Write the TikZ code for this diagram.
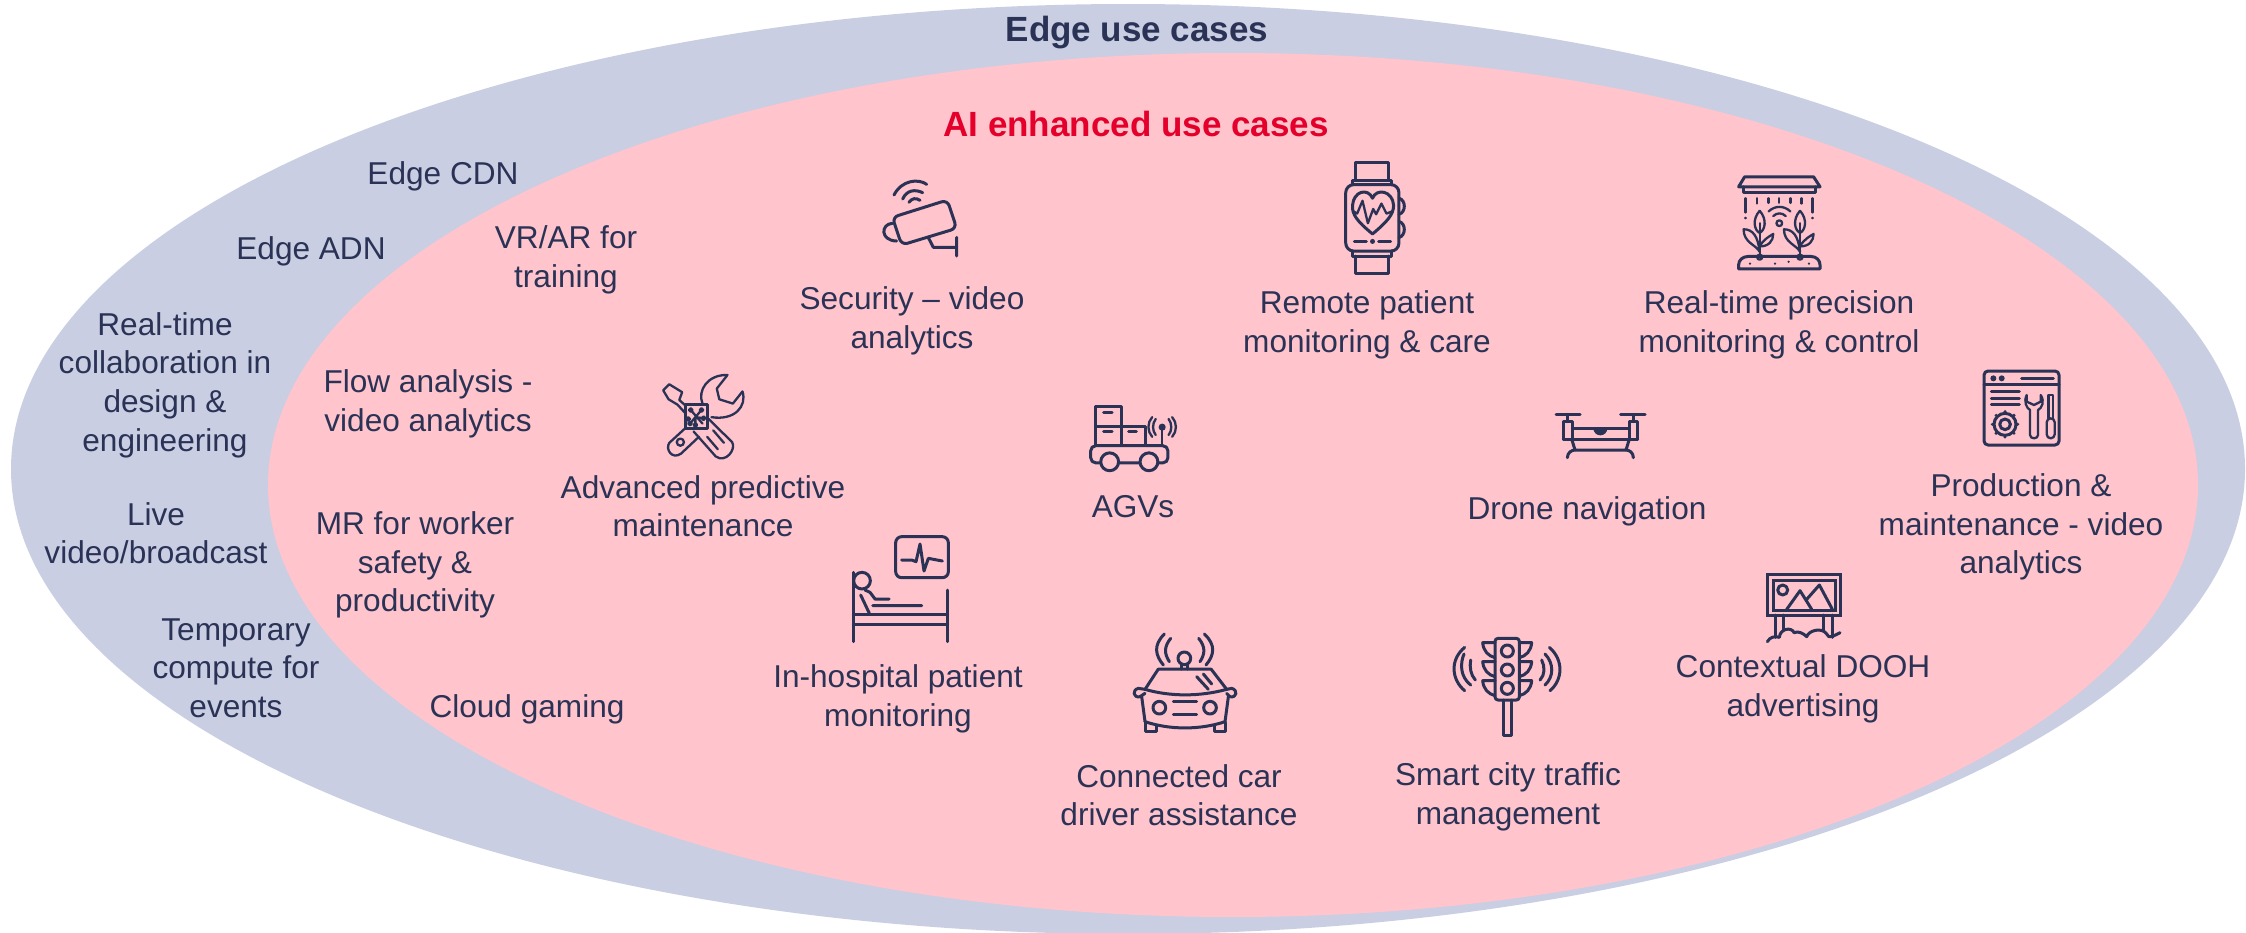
\documentclass[tikz,border=0pt]{standalone}
\usepackage{fontspec}
\setmainfont{Liberation Sans}
\definecolor{outerc}{HTML}{C9CEE3}
\definecolor{innerc}{HTML}{FFC4CC}
\definecolor{ink}{HTML}{2A3356}
\definecolor{redc}{HTML}{E4002B}
\tikzset{
 lbl/.style={text=ink,align=center,font=\fontsize{15.8}{19.3}\selectfont,inner sep=0pt},
 ttl/.style={align=center,font=\fontsize{#1}{#1}\selectfont\bfseries,inner sep=0pt},
 ic/.style={draw=ink,line width=1.5pt,line cap=round,line join=round},
 ict/.style={draw=ink,line width=1.15pt,line cap=round,line join=round},
 za/.style={shift={#1},x=0.16667pt,y=-0.16667pt},
 zb/.style={shift={#1},x=0.17857pt,y=-0.17857pt},
}
\begin{document}
\begin{tikzpicture}[x=0.5pt,y=-0.5pt]
\useasboundingbox (0,0) rectangle (2246,932);
\clip (0,0) rectangle (2246,932);
\fill[outerc] (1128,469) ellipse [x radius=1117,y radius=465];
\fill[innerc] (1233,485) ellipse [x radius=965,y radius=432];

\node[ttl=17.5,text=ink] (t0) at (1137,33) {Edge use cases};
\node[ttl=17.5,text=redc] (t1) at (1136,124) {AI enhanced use cases};
\node[lbl] (n1) at (443,176) {Edge CDN};
\node[lbl] (n2) at (311,251) {Edge ADN};
\node[lbl] (n3) at (165,385) {Real-time\\collaboration in\\design \&\\engineering};
\node[lbl] (n4) at (156,533) {Live\\video/broadcast};
\node[lbl] (n5) at (236,668) {Temporary\\compute for\\events};
\node[lbl] (n6) at (566,260) {VR/AR for\\training};
\node[lbl] (n7) at (428,404) {Flow analysis -\\video analytics};
\node[lbl] (n8) at (415,565) {MR for worker\\safety \&\\productivity};
\node[lbl] (n9) at (527,709) {Cloud gaming};
\node[lbl] (n10) at (912,321) {Security – video\\analytics};
\node[lbl] (n11) at (703,506) {Advanced predictive\\maintenance};
\node[lbl] (n12) at (898,699) {In-hospital patient\\monitoring};
\node[lbl] (n13) at (1133,507) {AGVs};
\node[lbl] (n14) at (1179,795) {Connected car\\driver assistance};
\node[lbl] (n15) at (1508,797) {Smart city traffic\\management};
\node[lbl] (n16) at (1803,689) {Contextual DOOH\\advertising};
\node[lbl] (n17) at (1587,511) {Drone navigation};
\node[lbl] (n18) at (2021,527) {Production \&\\maintenance - video\\analytics};
\node[lbl] (n19) at (1367,325) {Remote patient\\monitoring \& care};
\node[lbl] (n20) at (1779,325) {Real-time precision\\monitoring \& control};

% camera
\begin{scope}[za={(840,140)}]
\draw[ic,rounded corners=3pt] (157,232)--(322,180)--(350,265)--(185,315)--cycle;
\draw[ic] (157,250) .. controls (122,252) and (120,302) .. (170,303);
\draw[ic] (265,293)--(280,322)--(350,322) (350,292)--(350,348);
\draw[ic] (162,165) .. controls (185,120) and (235,115) .. (260,133);
\draw[ic] (188,177) .. controls (200,150) and (225,147) .. (248,158);
\draw[ic] (207,187) .. controls (215,175) and (228,172) .. (240,181);
\end{scope}

% watch and plants
\begin{scope}[zb={(1300,150)}]
\draw[ic] (155,85)--(155,35)--(248,35)--(248,85);
\draw[ic] (148,97)--(148,85)--(255,85)--(255,97);
\draw[ic,rounded corners=4pt] (128,97) rectangle (277,283);
\draw[ic] (148,283)--(148,297)--(255,297)--(255,283);
\draw[ic] (155,297)--(155,345)--(248,345)--(248,297);
\draw[ic] (277,135) .. controls (297,140) and (297,175) .. (277,180);
\draw[ic] (277,200) .. controls (297,205) and (297,240) .. (277,245);
\draw[ic] (203,235) .. controls (160,200) and (145,180) .. (147,155) .. controls (150,115) and (190,105) .. (203,135) .. controls (215,105) and (260,115) .. (262,155) .. controls (262,180) and (245,200) .. (203,235);
\draw[ict] (150,172)--(160,178)--(175,142)--(190,205)--(205,165)--(213,180)--(228,150)--(242,178)--(258,172);
\draw[ic] (152,256)--(186,256) (220,256)--(254,256);
\fill[ink] (203,256) circle (7);
% plants
\draw[ic] (1228,103)--(1245,75)--(1438,75)--(1456,103)--cycle;
\draw[ic] (1242,103)--(1242,120)--(1442,120)--(1442,103);
\draw[ict] (1265,103)--(1330,103) (1354,103)--(1420,103);
\draw[ict] (1247,135)--(1247,175) (1247,190)--(1247,191) (1435,135)--(1435,175) (1435,190)--(1435,191)
 (1280,135)--(1280,150) (1312,135)--(1312,148) (1342,135)--(1342,148) (1373,135)--(1373,148) (1404,135)--(1404,150);
\draw[ict] (1342,205) circle (8);
\draw[ict] (1325,185) .. controls (1335,175) and (1350,175) .. (1360,185);
\draw[ict] (1312,172) .. controls (1330,155) and (1355,155) .. (1373,172);
\foreach \px in {1287,1400}{
 \draw[ict] (\px,170) .. controls (\px+22,195) and (\px+15,225) .. (\px,232) .. controls (\px-15,225) and (\px-22,195) .. (\px,170);
 \draw[ict] (\px,205)--(\px,300);
 \draw[ict] (\px,285) .. controls (\px-10,265) and (\px-45,260) .. (\px-45,222) .. controls (\px-20,222) and (\px-5,240) .. (\px,285);
 \draw[ict] (\px,270) .. controls (\px+10,250) and (\px+30,240) .. (\px+38,235) .. controls (\px+38,255) and (\px+25,270) .. (\px,270);
 \filldraw[ict,fill=innerc] (\px,300) circle (7);
}
\draw[ic] (1228,333)--(1228,322) .. controls (1228,308) and (1240,298) .. (1255,298)--(1430,298) .. controls (1445,298) and (1456,308) .. (1456,322)--(1456,333)--cycle;
\foreach \px/\py in {1260/318,1330/318,1368/313,1425/318}{\fill[ink] (\px,\py) circle (3.5);}
\end{scope}

% tools and AGV
\begin{scope}[zb={(640,360)}]
\draw[ict] (128,128)--(110,112)--(118,90)--(82,68)--(65,85)--(80,110)--(105,125)--(128,150);
\draw[ict] (192,165)--(258,230) .. controls (270,250) and (240,290) .. (212,270)--(150,200);
\draw[ict] (205,197)--(235,232) (188,215)--(218,250);
\draw[ict] (175,122) .. controls (160,85) and (190,40) .. (245,42)--(215,80)--(222,110)--(260,122)--(287,88) .. controls (300,130) and (265,170) .. (200,160);
\draw[ict] (130,188)--(82,232) .. controls (70,250) and (90,280) .. (115,262)--(165,215);
\draw[ict] (113,230) circle (10);
\draw[ic,fill=innerc] (128,125) rectangle (190,192);
\draw[ict] (142,140)--(175,178) (172,140)--(140,178) (155,160)--(155,180) (155,160)--(178,163);
\foreach \px/\py in {142/140,172/140,135/165,178/163,140/178,155/182}{\filldraw[ict,fill=innerc] (\px,\py) circle (5);}
% AGV
\draw[ic] (1275,130) rectangle (1347,185);
\draw[ic] (1275,185) rectangle (1347,238);
\draw[ic] (1347,185) rectangle (1415,238);
\draw[ic] (1298,146)--(1322,146) (1298,200)--(1322,200) (1368,200)--(1390,200);
\draw[ic,rounded corners=2.5pt] (1262,240) rectangle (1478,288);
\filldraw[ic,fill=innerc] (1315,285) circle (25);
\filldraw[ic,fill=innerc] (1425,285) circle (25);
\fill[ink] (1462,188) circle (10);
\draw[ict] (1462,188)--(1462,238);
\draw[ict] (1444,165) .. controls (1434,178) and (1434,198) .. (1444,210);
\draw[ict] (1480,165) .. controls (1490,178) and (1490,198) .. (1480,210);
\draw[ict] (1434,160) .. controls (1420,175) and (1420,200) .. (1434,215);
\draw[ict] (1490,160) .. controls (1504,175) and (1504,200) .. (1490,215);
\end{scope}

% drone and window
\begin{scope}[za={(1530,360)}]
\draw[ic] (78,163)--(150,163) (272,163)--(345,163);
\draw[ic] (113,163)--(113,185) (310,163)--(310,185);
\draw[ic] (100,185) rectangle (127,237);
\draw[ic] (297,185) rectangle (323,237);
\draw[ic] (127,205)--(297,205) (100,237)--(323,237);
\fill[ink] (190,205) arc (180:0:21);
\draw[ic] (125,237)--(135,270) (298,237)--(288,270) (135,270)--(288,270);
\draw[ic] (112,293) .. controls (112,278) and (125,270) .. (135,270);
\draw[ic] (310,293) .. controls (310,278) and (298,270) .. (288,270);
% window
\draw[ic,rounded corners=2pt] (1362,33) rectangle (1587,255);
\draw[ic] (1362,72)--(1587,72);
\fill[ink] (1390,55) circle (9) (1415,55) circle (9);
\draw[ic] (1475,55)--(1570,55);
\draw[ic] (1384,95)--(1468,95) (1384,115)--(1468,115) (1384,133)--(1468,133);
\draw[ic] (1425,193) circle (16);
\draw[ic] (1425,193) circle (33);
\foreach \a in {0,45,...,315}{\fill[ink] (1425,193) ++(\a:38) circle (5);}
\draw[ict] (1490,105) .. controls (1480,125) and (1490,145) .. (1500,150)--(1500,225) .. controls (1500,238) and (1524,238) .. (1524,225)--(1524,150) .. controls (1535,145) and (1545,125) .. (1532,105)--(1532,125)--(1512,135)--(1490,125)--cycle;
\draw[ict,rounded corners=2pt] (1550,175) rectangle (1574,235);
\draw[ict] (1555,175)--(1555,105)--(1569,105)--(1569,175);
\end{scope}

% bed and car
\begin{scope}[za={(830,530)}]
\draw[ic,rounded corners=3pt] (197,20) rectangle (355,143);
\draw[ic] (215,90)--(245,90)--(258,95)--(270,42)--(282,123)--(295,85)--(337,93);
\draw[ic] (70,127)--(70,335) (353,180)--(353,335) (70,252)--(353,252) (70,283)--(353,283);
\draw[ic] (96,152) circle (25);
\draw[ic] (92,195)--(118,250) (105,180)--(120,187)--(135,207)--(177,207) (128,227)--(275,227);
% car
\draw[ic] (1063,385) circle (19);
\draw[ic] (1053,400)--(1053,417) (1073,400)--(1073,417);
\draw[ic] (985,417)--(1143,417) (985,417)--(945,478) (1143,417)--(1190,478);
\draw[ic] (945,478) .. controls (1020,500) and (1110,500) .. (1190,478);
\draw[ic] (945,478)--(925,475) .. controls (905,480) and (910,505) .. (930,500)--(945,490);
\draw[ic] (1190,478)--(1205,475) .. controls (1225,480) and (1220,505) .. (1200,500)--(1190,490);
\draw[ic] (935,500)--(945,575) (1195,500)--(1185,575);
\draw[ic] (945,575) .. controls (1020,600) and (1110,600) .. (1185,575);
\draw[ic] (945,578)--(945,605)--(978,605)--(978,588) (1152,588)--(1152,605)--(1185,605)--(1185,578);
\draw[ic] (988,533) circle (19);
\draw[ic] (1140,533) circle (19);
\draw[ic] (1030,515)--(1100,515) (1030,553)--(1100,553);
\draw[ic] (1100,440)--(1135,478) (1120,432)--(1145,462);
\draw[ic] (1003,312) .. controls (970,345) and (975,375) .. (1000,405);
\draw[ic] (1022,325) .. controls (1002,350) and (1002,370) .. (1018,395);
\draw[ic] (1123,312) .. controls (1158,345) and (1153,375) .. (1128,405);
\draw[ic] (1106,325) .. controls (1126,350) and (1126,370) .. (1110,395);
\end{scope}

% traffic light and billboard
\begin{scope}[za={(1430,560)}]
\draw[ic,rounded corners=1.5pt] (195,235) rectangle (268,420);
\draw[ic] (232,273) circle (18) (232,330) circle (18) (232,385) circle (18);
\foreach \py in {248,305,362}{
 \draw[ic] (195,\py)--(158,\py) .. controls (160,\py+25) and (175,\py+40) .. (195,\py+45);
 \draw[ic] (268,\py)--(305,\py) .. controls (303,\py+25) and (288,\py+40) .. (268,\py+45);
}
\draw[ic] (220,420)--(220,525)--(243,525)--(243,420);
\draw[ic] (122,300) .. controls (118,320) and (122,345) .. (136,360);
\draw[ic] (102,282) .. controls (90,310) and (90,350) .. (122,375);
\draw[ic] (104,262) .. controls (58,300) and (65,360) .. (104,392);
\draw[ic] (335,300) .. controls (345,320) and (345,345) .. (330,360);
\draw[ic] (345,282) .. controls (372,310) and (372,350) .. (345,375);
\draw[ic] (358,262) .. controls (402,300) and (398,360) .. (360,392);
% billboard
\draw[ic,line cap=butt,line join=miter] (1012,43) rectangle (1230,165);
\draw[ic,line cap=butt,line join=miter] (1030,60) rectangle (1215,150);
\draw[ic] (1058,90) circle (15);
\draw[ic] (1070,148)--(1110,92)--(1145,148) (1130,118)--(1168,75)--(1207,148);
\draw[ic] (1035,165)--(1035,232) (1060,165)--(1060,212) (1180,165)--(1180,212) (1207,165)--(1207,232);
\draw[ic] (1012,245) .. controls (1020,230) and (1035,228) .. (1048,232) .. controls (1050,205) and (1085,200) .. (1092,218) .. controls (1105,212) and (1120,220) .. (1130,230) .. controls (1135,212) and (1175,200) .. (1190,222) .. controls (1195,240) and (1215,225) .. (1230,218);
\end{scope}
\end{tikzpicture}
\end{document}
